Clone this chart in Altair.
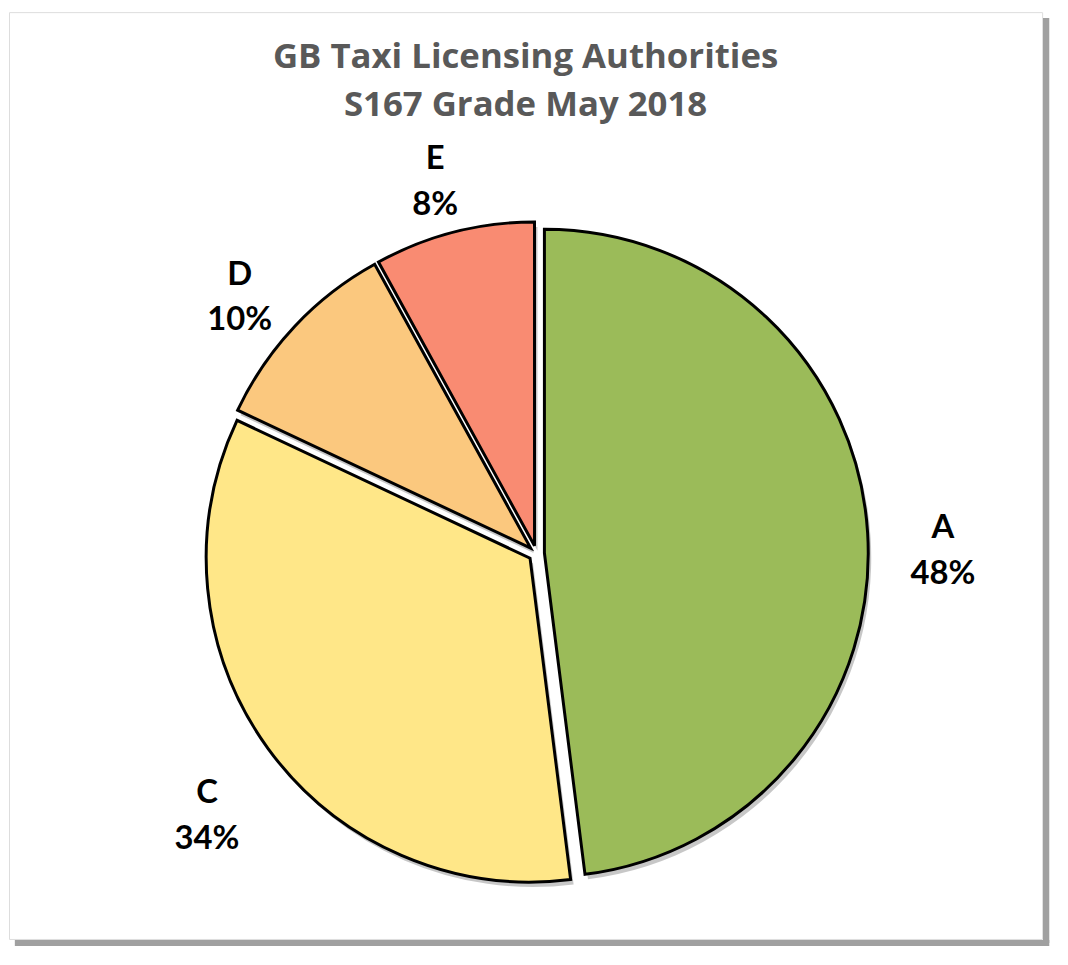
import math
import altair as alt
import pandas as pd

# ---- data ----
grades = ["A", "C", "D", "E"]
percents = [48, 34, 10, 8]
slice_colors = ["#9BBB59", "#FFE788", "#FBC87E", "#F98B72"]
title_lines = ["GB Taxi Licensing Authorities", "S167 Grade May 2018"]

df = pd.DataFrame({"grade": grades, "percent": percents, "order": list(range(len(grades)))})

W, H = 1040, 933
CX, CY = 531, 545      # pie centre (view px)
R = 326                # pie radius
EXPLODE = 8            # slice explosion distance
LABEL_R = 402

theta_scale = alt.Scale(domain=[0, 1], range=[0, 2 * math.pi])
x_scale = alt.Scale(domain=[-1, 1], range=[CX - EXPLODE, CX + EXPLODE])
y_scale = alt.Scale(domain=[-1, 1], range=[CY + EXPLODE, CY - EXPLODE])

base = (
    alt.Chart(df)
    .transform_joinaggregate(total="sum(percent)")
    .transform_window(cum="sum(percent)", sort=[alt.SortField("order")], frame=[None, 0])
    .transform_calculate(
        t0="(datum.cum - datum.percent) / datum.total",
        t1="datum.cum / datum.total",
        tm="(datum.cum - datum.percent / 2) / datum.total",
    )
    .transform_calculate(
        ex="sin(2 * PI * datum.tm)",
        ey="cos(2 * PI * datum.tm)",
        label="datum.grade + '\\n' + format(datum.percent / datum.total, '.0%')",
    )
)

pos = dict(
    x=alt.X("ex:Q", scale=x_scale, axis=None),
    y=alt.Y("ey:Q", scale=y_scale, axis=None),
)

shadow = base.mark_arc(outerRadius=R, xOffset=3, yOffset=5, color="#000000", opacity=0.22).encode(
    theta=alt.Theta("t0:Q", scale=theta_scale, stack=None),
    theta2="t1:Q",
    **pos,
)

pie = base.mark_arc(outerRadius=R, stroke="#000000", strokeWidth=3).encode(
    theta=alt.Theta("t0:Q", scale=theta_scale, stack=None),
    theta2="t1:Q",
    color=alt.Color("grade:N", scale=alt.Scale(domain=grades, range=slice_colors), legend=None),
    **pos,
)

labels = base.mark_text(
    radius=LABEL_R, font="Lato", fontSize=33, fontWeight="bold", color="#000000",
    lineBreak="\n", lineHeight=46, baseline="middle",
).encode(
    theta=alt.Theta("tm:Q", scale=theta_scale, stack=None),
    text="label:N",
    **pos,
)

# frame shadow (decoration)
frame_right = alt.Chart(df).mark_rule(color="#A0A0A0", strokeWidth=6).encode(
    x=alt.value(W + 4), y=alt.value(6), y2=alt.value(H + 4)
)
frame_bottom = alt.Chart(df).mark_rule(color="#A0A0A0", strokeWidth=6).encode(
    x=alt.value(6), x2=alt.value(W + 7), y=alt.value(H + 4)
)

chart = (
    alt.layer(frame_right, frame_bottom, shadow, pie, labels)
    .properties(
        width=W,
        height=H,
        padding={"left": 1, "top": 1, "right": 8, "bottom": 9},
        title=alt.Title(
            title_lines, font="Open Sans", fontSize=35, fontWeight="bold", color="#595959",
            lineHeight=49, anchor="middle", offset=-112,
        ),
    )
    .configure_view(stroke="#D0D0D0", strokeWidth=2)
    .configure(background="white")
)

chart.save("out.html", embed_options={"renderer": "svg", "actions": False})
